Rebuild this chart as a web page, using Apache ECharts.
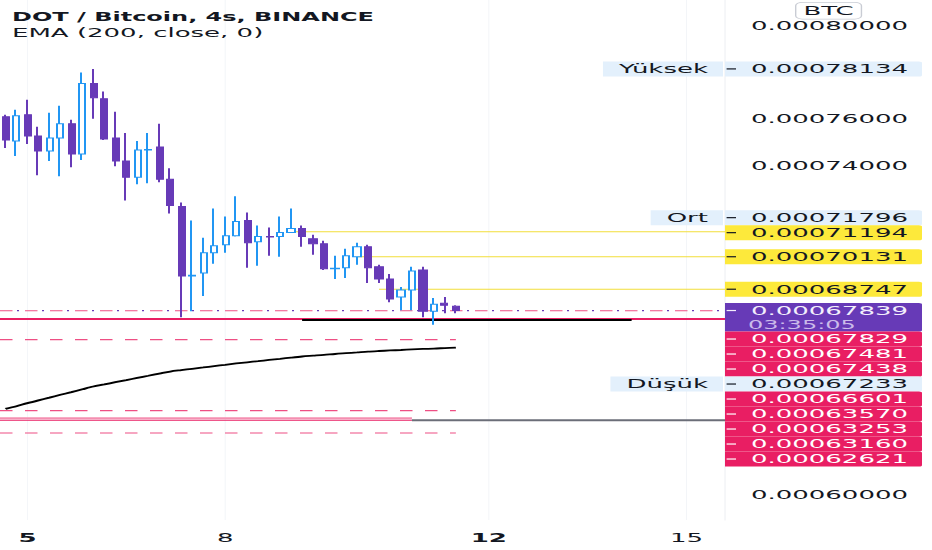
<!DOCTYPE html>
<html><head><meta charset="utf-8">
<script src="https://cdn.jsdelivr.net/npm/echarts@6/dist/echarts.min.js"></script>
<style>
html,body{margin:0;padding:0;background:#fff;overflow:hidden;}
#wrap{width:932px;height:550px;overflow:hidden;}
#chart{width:466px;height:550px;transform:scaleX(2);transform-origin:0 0;}
</style></head><body>
<div id="wrap"><div id="chart"></div></div>
<script>
// ---- DATA ----
const opens  = [0.00076094,0.00075064,0.00076180,0.00075279,0.00074635,0.00075193,0.00075794,0.00074506,0.00077511,0.00076867,
                0.00075193,0.00074206,0.00073519,0.00074678,0.00074807,0.00073433,0.00072274,0.00069313,0.00069442,0.00070301,
                0.00070644,0.00071030,0.00071674,0.00070773,0.00070988,0.00070988,0.00071159,0.00071330,0.00070902,0.00070687,
                0.00069614,0.00069657,0.00070129,0.00070558,0.00069700,0.00069185,0.00068412,0.00068712,0.00069571,0.00067811,
                0.00068154,0.00068025];
const closes = [0.00075107,0.00076137,0.00075279,0.00074635,0.00075193,0.00075794,0.00074506,0.00077511,0.00076910,0.00075150,
                0.00074206,0.00073519,0.00074678,0.00074700,0.00073433,0.00072317,0.00069313,0.00069340,0.00070301,0.00070601,
                0.00071030,0.00071631,0.00070730,0.00070988,0.00070970,0.00071159,0.00071330,0.00070988,0.00070687,0.00069614,
                0.00069640,0.00070172,0.00070558,0.00069657,0.00069185,0.00068326,0.00068712,0.00069528,0.00067811,0.00068111,
                0.00068068,0.00067839];
const lows   = [0.00074764,0.00074420,0.00074935,0.00073605,0.00074206,0.00073562,0.00073948,0.00074249,0.00076009,0.00075107,
                0.00073991,0.00072532,0.00073218,0.00073261,0.00073304,0.00071974,0.00067553,0.00067811,0.00068455,0.00069829,
                0.00070301,0.00070988,0.00069657,0.00069743,0.00070172,0.00070129,0.00071140,0.00070558,0.00070215,0.00069571,
                0.00069185,0.00069228,0.00069785,0.00069013,0.00069013,0.00068197,0.00067854,0.00067854,0.00067553,0.00067233,
                0.00067725,0.00067725];
const highs  = [0.00076180,0.00076395,0.00076824,0.00075665,0.00076266,0.00076566,0.00075966,0.00077983,0.00078134,0.00077167,
                0.00076309,0.00075408,0.00075064,0.00075408,0.00075794,0.00073905,0.00072446,0.00071674,0.00070945,0.00072189,
                0.00071845,0.00072704,0.00072017,0.00071459,0.00071373,0.00071845,0.00072189,0.00071459,0.00071073,0.00070816,
                0.00070172,0.00070472,0.00070730,0.00070644,0.00069785,0.00069399,0.00068841,0.00069700,0.00069700,0.00068369,
                0.00068412,0.00068068];
const emaValues = [0.00063647,0.00063763,0.00063892,0.00064012,0.00064128,0.00064248,0.00064364,0.00064484,0.00064600,0.00064690,
                   0.00064785,0.00064875,0.00064970,0.00065060,0.00065150,0.00065240,0.00065300,0.00065356,0.00065412,0.00065472,
                   0.00065528,0.00065584,0.00065635,0.00065682,0.00065734,0.00065781,0.00065833,0.00065880,0.00065914,0.00065948,
                   0.00065987,0.00066021,0.00066055,0.00066090,0.00066115,0.00066137,0.00066158,0.00066180,0.00066201,0.00066218,
                   0.00066240,0.00066261];

// time slots (4h bars): 42 bars plus empty future space
const slotCount = 66;
const xTickIndex = [2, 20, 44, 62];
const xTickText  = ['5', '8', '12', '15'];
const xTickBold  = [true, false, true, false];

// price scale
const yTickValues = [0.00080000, 0.00076000, 0.00074000, 0.00060000];
const yViewMin = 0.00058914, yViewMax = 0.00081070;

// horizontal level lines
const linePrices = [0.00071194,0.00070131,0.00068747,0.00067829,0.00067839,0.00067481,0.00067438,0.00066601,0.00063570,0.00063253,0.00063160,0.00063160,0.00062621];
const lineFrom   = [26,32,34,null,null,null,27,null,null,null,null,37,null];
const lineTo     = [null,null,null,null,null,null,57,41,41,37,37,null,41];
const lineKind   = ['yellow','yellow','yellow','redDash','lastDot','redSolid','black','redDash','redDash','pinkLight','redThin','gray','redDash'];

// price-scale tags
const tagPrices = [0.00078134,0.00071796,0.00071194,0.00070131,0.00068747,0.00067839,0.00067829,0.00067481,0.00067438,0.00067233,0.00066601,0.00063570,0.00063253,0.00063160,0.00062621];
const tagKind   = ['info','info','yellow','yellow','yellow','last','red','red','red','info','red','red','red','red','red'];
const tagName   = ['Yüksek','Ort','','','','','','','','Düşük','','','','',''];
const countdown = '03:35:05';

const titleText = 'DOT / Bitcoin, 4s, BINANCE';
const subText = 'EMA (200, close, 0)';
const currencyText = 'BTC';

// ---- BUILD ----
const categories = [];
for (let i = 0; i < slotCount; i++) categories.push(String(i));
const candleData = opens.map((o, i) => [o, closes[i], lows[i], highs[i]]);

const FONT = '"DejaVu Sans", sans-serif';
const lineStyles = {
  yellow:   {stroke:'#f2de3a', lineWidth:1},
  redDash:  {stroke:'#ee4f84', lineWidth:1.2, lineDash:[6.25,6.25]},
  lastDot:  {stroke:'#673ab7', lineWidth:1.3, lineDash:[1,11.5], lineDashOffset:3.6},
  redSolid: {stroke:'#e91e63', lineWidth:2},
  black:    {stroke:'#000000', lineWidth:2},
  pinkLight:{stroke:'#f48fb1', lineWidth:2},
  redThin:  {stroke:'#e91e63', lineWidth:1},
  gray:     {stroke:'#6b6e78', lineWidth:2}
};
const tagStyles = {
  info:   {bg:'#e3f0fc', fg:'#131722'},
  yellow: {bg:'#fde93b', fg:'#131722'},
  last:   {bg:'#673ab7', fg:'#f3eefc'},
  red:    {bg:'#e91e63', fg:'#ffffff'}
};

function renderLevel(params, api) {
  const i = params.dataIndex;
  const cs = params.coordSys;
  const p = linePrices[i];
  const y = api.coord([0, p])[1];
  const x1 = lineFrom[i] == null ? cs.x : api.coord([lineFrom[i], p])[0];
  const x2 = lineTo[i] == null ? cs.x + cs.width : api.coord([lineTo[i], p])[0];
  return {type:'line', shape:{x1:x1, y1:y, x2:x2, y2:y}, style:Object.assign({fill:null}, lineStyles[lineKind[i]])};
}
function renderVGrid(params, api) {
  const cs = params.coordSys;
  const x = api.coord([xTickIndex[params.dataIndex], yViewMin])[0];
  return {type:'line', shape:{x1:x, y1:cs.y, x2:x, y2:cs.y + cs.height}, style:{stroke:'#eff1f5', lineWidth:0.5}};
}
function renderTags(params, api) {
  const cs = params.coordSys;
  const axisX = cs.x + cs.width;
  const right = 461;
  const textX = 454;
  let prevBottom = -1e9;
  const children = [];
  for (let i = 0; i < tagPrices.length; i++) {
    const st = tagStyles[tagKind[i]];
    const yc = api.coord([0, tagPrices[i]])[1];
    const isLast = tagKind[i] === 'last';
    const h = isLast ? 28.5 : 15;
    const top = Math.max(yc - 7.5, prevBottom);
    prevBottom = top + h;
    const mid = top + 7.5;
    children.push({type:'rect', shape:{x:axisX, y:top, width:right - axisX, height:h, r:[0,1.5,1.5,0]}, style:{fill:st.bg}});
    children.push({type:'line', shape:{x1:axisX + 0.8, y1:mid, x2:axisX + 5.5, y2:mid}, style:{stroke:st.fg, lineWidth:1.2}});
    children.push({type:'text', style:{x:textX, y:mid, text:tagPrices[i].toFixed(8), align:'right', textAlign:'right',
      verticalAlign:'middle', textVerticalAlign:'middle', fill:st.fg, font:'13px ' + FONT, lineHeight:13}});
    if (isLast) {
      children.push({type:'text', style:{x:374, y:mid + 14.5, text:countdown, align:'left', textAlign:'left',
        verticalAlign:'middle', textVerticalAlign:'middle', fill:'#cbbbea', font:'12px ' + FONT, lineHeight:12}});
    }
    if (tagName[i]) {
      children.push({type:'text', style:{x:axisX - 1, y:mid, text:tagName[i], align:'right', textAlign:'right',
        verticalAlign:'middle', textVerticalAlign:'middle', fill:'#131722', font:'13px ' + FONT,
        backgroundColor:'#e3f0fc', padding:[1,7.5,1,8], lineHeight:13}});
    }
  }
  return {type:'group', children:children};
}

const chart = echarts.init(document.getElementById('chart'), null, {renderer:'svg', width:466, height:550});
chart.setOption({
  animation:false,
  backgroundColor:'#ffffff',
  title:{
    text:titleText, subtext:subText, left:1, top:4, itemGap:1,
    textStyle:{fontFamily:FONT, fontSize:12, fontWeight:'bold', color:'#131722', lineHeight:15},
    subtextStyle:{fontFamily:FONT, fontSize:13, color:'#131722', lineHeight:15}
  },
  grid:{left:-1.25, top:0, width:363.75, height:520},
  xAxis:{
    type:'category', data:categories, boundaryGap:true,
    axisLine:{show:false}, axisTick:{show:false}, splitLine:{show:false},
    axisLabel:{
      interval:(idx) => xTickIndex.indexOf(idx) >= 0,
      margin:11,
      formatter:(val, idx) => {
        const k = xTickIndex.indexOf(idx);
        if (k < 0) return '';
        return (xTickBold[k] ? '{b|' : '{n|') + xTickText[k] + '}';
      },
      rich:{
        b:{fontFamily:FONT, fontSize:13, fontWeight:'bold', color:'#131722'},
        n:{fontFamily:FONT, fontSize:13, color:'#131722'}
      }
    }
  },
  yAxis:{
    type:'value', position:'right', min:yViewMin, max:yViewMax, scale:true,
    axisLine:{show:true, lineStyle:{color:'#e6e8ee', width:0.5}},
    axisTick:{show:false}, splitLine:{show:false},
    axisLabel:{
      customValues:yTickValues, align:'right', margin:91.5,
      fontFamily:FONT, fontSize:13, color:'#131722', lineHeight:13,
      formatter:(v) => Number(v).toFixed(8)
    }
  },
  graphic:[{
    type:'text', left:397.5, top:2, z:100,
    style:{text:currencyText, font:'13px ' + FONT, fill:'#131722', backgroundColor:'#ffffff',
      borderColor:'#c9ccd4', borderWidth:0.7, borderRadius:3, padding:[1,3.5,1,3.5], lineHeight:14}
  }],
  series:[
    {type:'custom', name:'grid', data:xTickIndex.map((x) => [x, yViewMin]), renderItem:renderVGrid, silent:true, z:0, clip:false},
    {type:'custom', name:'levels', data:linePrices.map((p, i) => [0, p]), renderItem:renderLevel, silent:true, z:1, clip:false},
    {type:'candlestick', name:'DOTBTC', data:candleData, barWidth:3.6, z:3,
      itemStyle:{color:'#ffffff', color0:'#673ab7', borderColor:'#2196f3', borderColor0:'#673ab7', borderWidth:1}},
    {type:'line', name:'EMA', data:emaValues, showSymbol:false, smooth:0.3, z:4, silent:true,
      lineStyle:{color:'#000000', width:1.8}},
    {type:'custom', name:'tags', data:[[0, tagPrices[0]]], renderItem:renderTags, silent:true, z:10, clip:false}
  ]
});
</script>
</body></html>
